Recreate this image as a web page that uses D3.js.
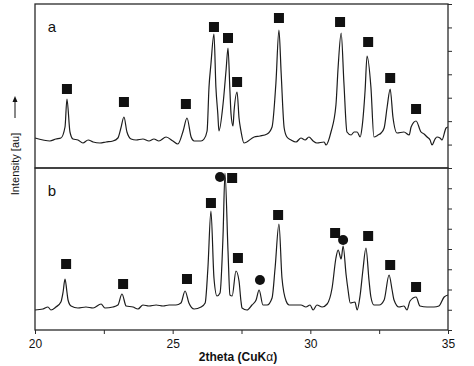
<!DOCTYPE html>
<html>
<head>
<meta charset="utf-8">
<script src="https://cdn.jsdelivr.net/npm/d3@7"></script>
<style>
	body { margin: 0; background: white; }
	svg { display: block; }
</style>
</head>
<body>
<svg class="xrdSvg" width="474" height="366"></svg>
<script>
var w = 474
var h = 366
var left = 35
var right = 448
var plotTop = 4
var mid = 168
var bottom = 330
var cLine = "#1c1c1c"
var cFrame = "#2a2a2a"

// panel a trace (2theta, intensity au)
var thetaA = [20.00, 20.29, 20.54, 20.76, 20.94, 21.09, 21.16, 21.27, 21.38, 21.56, 21.74, 21.93, 22.11, 22.36, 22.58, 22.83,
	23.01, 23.12, 23.23, 23.34, 23.49, 23.67, 23.92, 24.14, 24.32, 24.50, 24.76, 25.01, 25.19, 25.38, 25.52, 25.67, 25.78,
	26.03, 26.14, 26.25, 26.32, 26.39, 26.50, 26.57, 26.64, 26.68, 26.83, 26.94, 27.01, 27.08, 27.12, 27.19, 27.23, 27.34,
	27.41, 27.48, 27.59, 27.96, 28.17, 28.43, 28.61, 28.75, 28.86, 28.94, 29.05, 29.15, 29.30, 29.48, 29.66, 29.81, 29.95,
	30.10, 30.24, 30.50, 30.57, 30.75, 30.93, 31.01, 31.12, 31.22, 31.33, 31.48, 31.59, 31.70, 31.81, 31.88, 31.99, 32.06,
	32.20, 32.31, 32.46, 32.57, 32.68, 32.79, 32.90, 33.00, 33.15, 33.40, 33.59, 33.66, 33.84, 34.02, 34.13, 34.24, 34.35,
	34.42, 34.53, 34.60, 34.71, 34.78, 34.93, 35.00]
var intensityA = [30, 28, 27, 29, 30, 41, 69, 36, 29, 28, 25, 28, 26, 25, 26, 27,
	30, 40, 51, 36, 29, 28, 29, 27, 29, 27, 31, 27, 24, 37, 50, 31, 27,
	27, 29, 37, 81, 104, 134, 81, 54, 37, 64, 98, 120, 77, 54, 42, 57, 76,
	50, 37, 25, 31, 32, 34, 41, 85, 138, 95, 40, 31, 28, 26, 30, 28, 31,
	27, 25, 26, 23, 36, 63, 101, 135, 85, 36, 33, 36, 36, 31, 41, 78, 112,
	81, 31, 33, 35, 40, 61, 79, 51, 35, 36, 33, 41, 47, 36, 34, 31, 28,
	23, 29, 31, 30, 28, 40, 41]

// panel b trace
var thetaB = [20.00, 20.29, 20.47, 20.58, 20.76, 20.94, 21.02, 21.09, 21.16, 21.20, 21.31, 21.56, 21.85, 22.11, 22.40, 22.54,
	22.83, 23.01, 23.16, 23.31, 23.56, 23.74, 23.92, 24.14, 24.40, 24.65, 24.87, 25.12, 25.30, 25.45, 25.59, 25.78, 26.03,
	26.18, 26.28, 26.39, 26.50, 26.61, 26.72, 26.83, 26.90, 27.01, 27.08, 27.16, 27.30, 27.41, 27.48, 27.52, 27.70, 27.88,
	28.03, 28.14, 28.28, 28.43, 28.61, 28.72, 28.86, 28.97, 29.12, 29.23, 29.48, 29.66, 29.84, 29.99, 30.10, 30.24, 30.43,
	30.61, 30.79, 30.93, 31.01, 31.12, 31.19, 31.30, 31.37, 31.45, 31.62, 31.70, 31.81, 31.91, 32.02, 32.13, 32.20, 32.31,
	32.50, 32.68, 32.86, 32.97, 33.04, 33.22, 33.40, 33.51, 33.62, 33.84, 33.98, 34.24, 34.49, 34.67, 34.86, 35.00]
var intensityB = [20, 21, 23, 20, 23, 28, 38, 51, 38, 30, 24, 22, 23, 22, 26, 22,
	23, 25, 36, 24, 23, 21, 25, 24, 25, 24, 25, 25, 27, 39, 27, 21, 23,
	27, 62, 119, 52, 34, 37, 95, 157, 79, 35, 34, 59, 49, 29, 22, 20, 25,
	30, 40, 25, 25, 32, 62, 106, 52, 29, 25, 25, 25, 23, 25, 20, 25, 23,
	26, 42, 72, 80, 71, 84, 55, 40, 27, 28, 20, 35, 60, 82, 50, 33, 25,
	25, 30, 55, 40, 30, 23, 24, 20, 29, 33, 24, 23, 23, 24, 33, 35]

// peak markers
var squaresA = [[21.16, 79], [23.23, 66], [25.48, 64], [26.50, 141], [27.01, 130], [27.34, 86],
	[28.86, 150], [31.08, 146], [32.10, 126], [32.90, 90], [33.84, 59]]
var squaresB = [[21.13, 66], [23.20, 46], [25.52, 51], [26.39, 127], [27.16, 152], [27.37, 72],
	[28.83, 115], [30.90, 97], [32.10, 94], [32.90, 65], [33.84, 43]]
var circlesB = [[26.72, 153], [28.17, 50], [31.19, 90]]

var xTicks = [20, 22.5, 25, 27.5, 30, 32.5, 35]
var xTickLabels = [20, 25, 30, 35]

var svg = d3.select('.xrdSvg')

svg.append('rect')
	.attr("width", w)
	.attr("height", h)
	.attr("fill", "white")

var x = d3.scaleLinear()
	.domain([20, 35])
	.range([left, right])

var yA = d3.scaleLinear()
	.domain([0, 164])
	.range([mid, plotTop])

var yB = d3.scaleLinear()
	.domain([0, 162])
	.range([bottom, mid])

var drawPanel = function(name, y, thetas, values, squares, circles, ticks) {
	var pts = thetas.map(function(t, i) { return [t, values[i]] })

	var line = d3.line()
		.x(function(d) { return x(d[0]) })
		.y(function(d) { return y(d[1]) })
		.curve(d3.curveMonotoneX)

	svg.append('path')
		.datum(pts)
		.attr("d", line)
		.attr("fill", "none")
		.attr("stroke", cLine)
		.attr("stroke-width", 1.2)
		.attr("stroke-linejoin", "round")

	svg.selectAll('.sq' + name)
		.data(squares)
		.enter()
		.append('rect')
		.attr("class", 'sq' + name)
		.attr("x", function(d) { return x(d[0]) - 5 })
		.attr("y", function(d) { return y(d[1]) - 5 })
		.attr("width", 10)
		.attr("height", 10)
		.attr("fill", "#111")

	svg.selectAll('.ci' + name)
		.data(circles)
		.enter()
		.append('circle')
		.attr("class", 'ci' + name)
		.attr("cx", function(d) { return x(d[0]) })
		.attr("cy", function(d) { return y(d[1]) })
		.attr("r", 5)
		.attr("fill", "#111")

	// right side ticks, no labels
	var rAxis = d3.axisRight(y)
		.tickValues(ticks)
		.tickSize(4)
		.tickFormat("")

	var g = svg.append('g')
		.attr("transform", "translate(" + right + ",0)")
		.call(rAxis)
	g.select(".domain").remove()
	g.selectAll("line").attr("stroke", cFrame)

	svg.append('rect')
		.attr("x", left)
		.attr("y", y.range()[1])
		.attr("width", right - left)
		.attr("height", y.range()[0] - y.range()[1])
		.attr("fill", "none")
		.attr("stroke", cFrame)
		.attr("stroke-width", 1.3)

	svg.append('text')
		.text(name)
		.attr("x", 52)
		.attr("y", y.range()[1] + 28)
		.attr("font-family", "Liberation Sans, Arial, sans-serif")
		.attr("font-size", "15px")
		.attr("fill", "#111")
		.attr("text-anchor", "middle")
}

drawPanel("a", yA, thetaA, intensityA, squaresA, [], d3.range(8).map(function(i) { return i * 164 / 7 }))
drawPanel("b", yB, thetaB, intensityB, squaresB, circlesB, d3.range(9).map(function(i) { return i * 162 / 8 }))

// x axis
var xAxis = d3.axisBottom(x)
	.tickValues(xTicks)
	.tickSize(4)
	.tickFormat(function(d) { return xTickLabels.indexOf(d) > -1 ? d : "" })

var gx = svg.append('g')
	.attr("transform", "translate(0," + bottom + ")")
	.call(xAxis)
gx.select(".domain").remove()
gx.selectAll("line").attr("stroke", cFrame)
gx.selectAll("text")
	.attr("font-family", "Liberation Sans, Arial, sans-serif")
	.attr("font-size", "12px")
	.attr("fill", "#111")
	.attr("dy", "0.9em")

var xLabel = svg.append('text')
	.attr("x", 238)
	.attr("y", 361)
	.attr("font-family", "Liberation Sans, Arial, sans-serif")
	.attr("font-size", "12px")
	.attr("font-weight", "bold")
	.attr("fill", "#111")
	.attr("text-anchor", "middle")
xLabel.append('tspan').text("2theta (CuK")
xLabel.append('tspan').text("α").attr("font-weight", "normal")
xLabel.append('tspan').text(")")

// y label with arrow
svg.append('text')
	.text("Intensity [au]")
	.attr("transform", "translate(19,164) rotate(-90)")
	.attr("font-family", "Liberation Sans, Arial, sans-serif")
	.attr("font-size", "11px")
	.attr("fill", "#111")
	.attr("text-anchor", "middle")

svg.append('line')
	.attr("x1", 15)
	.attr("y1", 118)
	.attr("x2", 15)
	.attr("y2", 100)
	.attr("stroke", "#111")
	.attr("stroke-width", 1)

svg.append('path')
	.attr("d", "M15,96 L12.5,102 L17.5,102 Z")
	.attr("fill", "#111")
</script>
</body>
</html>
